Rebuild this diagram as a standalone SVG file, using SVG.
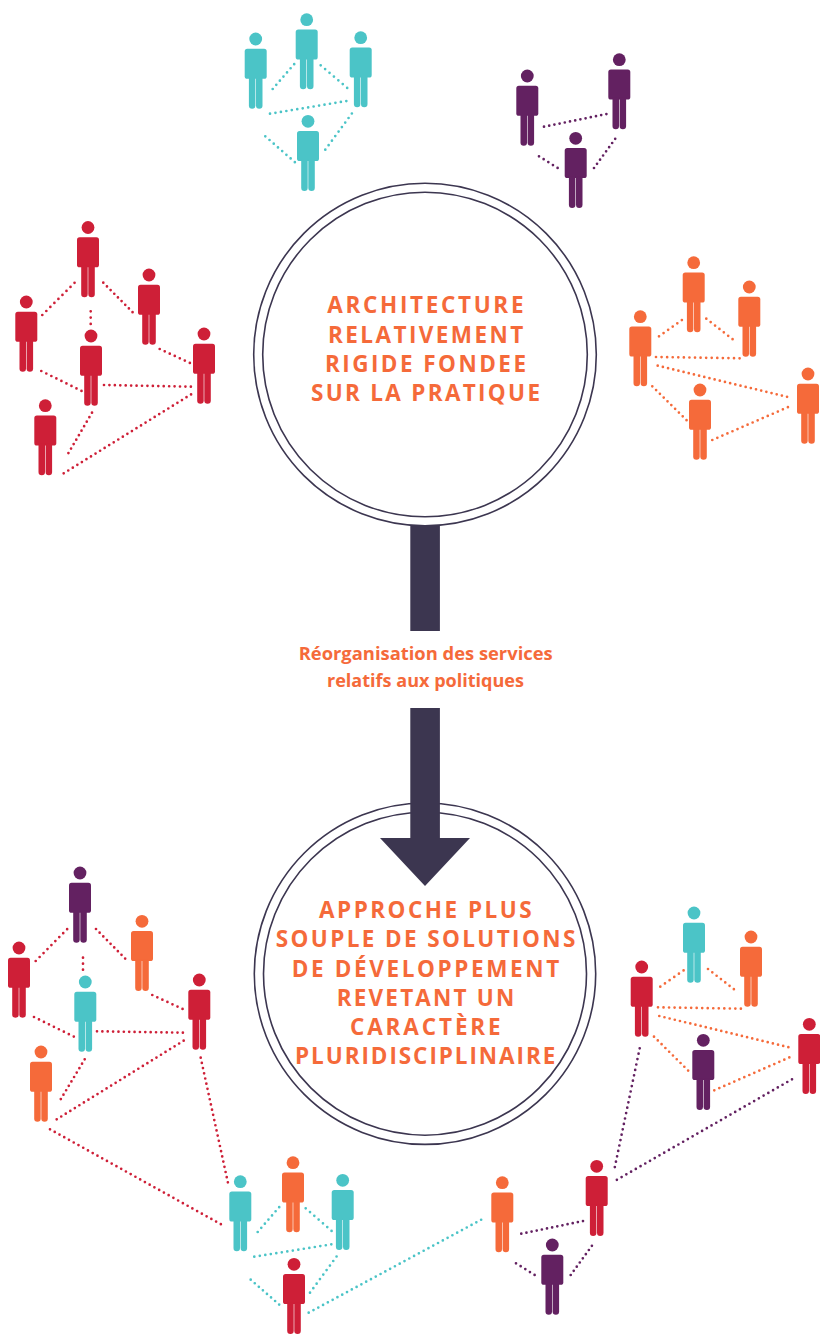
<svg xmlns="http://www.w3.org/2000/svg" width="820" height="1335" viewBox="0 0 820 1335">
<style>
.teal{fill:#4bc4c7}.red{fill:#ce1f37}.orange{fill:#f56a3a}.purple{fill:#632161}
.ring{fill:none;stroke:#3c3650;stroke-width:1.6}
.arrow{fill:#3c3650}
.dot{fill:none;stroke-width:2.7;stroke-linecap:round;stroke-dasharray:0 .995}
.dt{stroke:#4bc4c7}.dr{stroke:#ce1f37}.do{stroke:#f56a3a}.dp{stroke:#632161}
.title{font-family:"Open Sans","Liberation Sans",sans-serif;font-weight:700;font-size:22.5px;fill:#f56a3a}
.label{font-family:"Open Sans","Liberation Sans",sans-serif;font-weight:700;font-size:18.5px;fill:#f56a3a}
</style>
<defs>
<g id="p">
<circle cx="0" cy="0" r="6.4"/>
<rect x="-11" y="9.8" width="22" height="30" rx="2.6"/>
<path d="M-6.8 38h6.5v28.4a3.25 3.25 0 0 1-6.5 0z"/>
<path d="M0.3 38h6.5v28.4a3.25 3.25 0 0 1-6.5 0z"/>
</g>
</defs>
<g id="rings">
<circle class="ring" cx="425" cy="354.5" r="171.3"/>
<circle class="ring" cx="425" cy="354.5" r="162.3"/>
<circle class="ring" cx="425" cy="973.7" r="170.7"/>
<circle class="ring" cx="425" cy="973.7" r="161.5"/>
</g>
<g id="connectors">
<path class="dot dt" pathLength="6" d="M272.7 89L294.3 64"/>
<path class="dot dt" pathLength="6" d="M320.7 65.3L347.3 88"/>
<path class="dot dt" pathLength="14" d="M270 113.7L346.7 101"/>
<path class="dot dt" pathLength="7" d="M265.3 136.3L295 162.3"/>
<path class="dot dt" pathLength="8" d="M325.3 149.7L352 113.3"/>
<path class="dot dp" pathLength="12" d="M544 126.7L606.7 114"/>
<path class="dot dp" pathLength="4" d="M539 156.3L557.7 168"/>
<path class="dot dp" pathLength="7" d="M594 168L615.3 138.7"/>
<path class="dot dr" pathLength="8" d="M42.3 315L74.7 282.7"/>
<path class="dot dr" pathLength="8" d="M103.3 282.7L132.7 312.3"/>
<path class="dot dr" pathLength="2" d="M90.7 311.3L90.7 324"/>
<path class="dot dr" pathLength="8" d="M41.3 371L81.7 391"/>
<path class="dot dr" pathLength="16" d="M104 385L191.3 386.7"/>
<path class="dot dr" pathLength="6" d="M159.7 349L190 363"/>
<path class="dot dr" pathLength="9" d="M92 412.7L68.3 453.3"/>
<path class="dot dr" pathLength="28" d="M63.7 473.3L191.7 394"/>
<path class="dot do" pathLength="5" d="M659 336.3L682 320"/>
<path class="dot do" pathLength="6" d="M706.3 318.7L732.7 339.3"/>
<path class="dot do" pathLength="15" d="M656 357L740 358.3"/>
<path class="dot do" pathLength="25" d="M657.7 365.7L787.7 397"/>
<path class="dot do" pathLength="9" d="M652.3 386.3L686.7 420.3"/>
<path class="dot do" pathLength="15" d="M712.3 440L788.3 407"/>
<path class="dot dr" pathLength="8" d="M35.7 961L67.3 929"/>
<path class="dot dr" pathLength="8" d="M96 929L125.3 958.7"/>
<path class="dot dr" pathLength="2" d="M83 957.7L83 969.7"/>
<path class="dot dr" pathLength="8" d="M34 1017L74 1036.7"/>
<path class="dot dr" pathLength="16" d="M97 1031.3L183.3 1032.7"/>
<path class="dot dr" pathLength="6" d="M152.3 995L182.7 1009"/>
<path class="dot dr" pathLength="9" d="M84.7 1059.3L60.7 1099.3"/>
<path class="dot dr" pathLength="28" d="M56.7 1119.3L184.3 1040.3"/>
<path class="dot dr" pathLength="24" d="M200.7 1057.7L228 1183"/>
<path class="dot dr" pathLength="36" d="M50 1129.3L221.7 1224.7"/>
<path class="dot do" pathLength="5" d="M660.3 986.7L683.7 970.3"/>
<path class="dot do" pathLength="6" d="M708 969L734 989.3"/>
<path class="dot do" pathLength="15" d="M658 1007.3L741.3 1008.7"/>
<path class="dot do" pathLength="25" d="M659.3 1016L789 1047.3"/>
<path class="dot do" pathLength="9" d="M654 1036.7L688.3 1070.7"/>
<path class="dot do" pathLength="15" d="M714.3 1090.3L789.7 1057.3"/>
<path class="dot dp" pathLength="22" d="M639.7 1048.3L614.7 1167.7"/>
<path class="dot dp" pathLength="37" d="M792 1079.3L616 1180.3"/>
<path class="dot dp" pathLength="12" d="M521.3 1233.7L583.3 1221"/>
<path class="dot dp" pathLength="4" d="M516 1263.3L534.7 1275"/>
<path class="dot dp" pathLength="7" d="M570.7 1275L592 1245.7"/>
<path class="dot dt" pathLength="6" d="M257.7 1232L279.3 1207"/>
<path class="dot dt" pathLength="6" d="M305.7 1208.3L331.7 1231"/>
<path class="dot dt" pathLength="14" d="M254.3 1256.7L331.7 1244.3"/>
<path class="dot dt" pathLength="7" d="M250.7 1279.7L279.3 1304.7"/>
<path class="dot dt" pathLength="8" d="M310 1292.7L336.7 1256.3"/>
<path class="dot dt" pathLength="36" d="M308.7 1312.7L482 1219.3"/>
</g>
<g id="arrow-stem-top"><rect class="arrow" x="410.3" y="526" width="29.6" height="105"/></g>
<g id="arrow-down"><path class="arrow" d="M410.3 708H439.9V838H470L425 886L380 838H410.3z"/></g>
<g id="top-teal">
<g id="t1" class="teal" transform="translate(255.7 39)"><use href="#p"/></g>
<g id="t2" class="teal" transform="translate(306.7 19.7)"><use href="#p"/></g>
<g id="t3" class="teal" transform="translate(360.7 37.7)"><use href="#p"/></g>
<g id="t4" class="teal" transform="translate(308 121.3)"><use href="#p"/></g>
</g>
<g id="top-purple">
<g id="p1" class="purple" transform="translate(527.3 76)"><use href="#p"/></g>
<g id="p2" class="purple" transform="translate(619.3 59.7)"><use href="#p"/></g>
<g id="p3" class="purple" transform="translate(575.7 138.3)"><use href="#p"/></g>
</g>
<g id="top-red">
<g id="r1" class="red" transform="translate(88 227.5)"><use href="#p"/></g>
<g id="r2" class="red" transform="translate(149 275)"><use href="#p"/></g>
<g id="r3" class="red" transform="translate(26.3 302)"><use href="#p"/></g>
<g id="r4" class="red" transform="translate(91 336)"><use href="#p"/></g>
<g id="r5" class="red" transform="translate(204 334)"><use href="#p"/></g>
<g id="r6" class="red" transform="translate(45.3 405.7)"><use href="#p"/></g>
</g>
<g id="top-orange">
<g id="o1" class="orange" transform="translate(693.7 262.7)"><use href="#p"/></g>
<g id="o2" class="orange" transform="translate(749.3 287)"><use href="#p"/></g>
<g id="o3" class="orange" transform="translate(640.3 316.7)"><use href="#p"/></g>
<g id="o4" class="orange" transform="translate(700 390)"><use href="#p"/></g>
<g id="o5" class="orange" transform="translate(808 374)"><use href="#p"/></g>
</g>
<g id="bottom-left">
<g id="bl1" class="purple" transform="translate(80 873)"><use href="#p"/></g>
<g id="bl2" class="orange" transform="translate(142 921.3)"><use href="#p"/></g>
<g id="bl3" class="red" transform="translate(19 948)"><use href="#p"/></g>
<g id="bl4" class="teal" transform="translate(85.3 982)"><use href="#p"/></g>
<g id="bl5" class="red" transform="translate(199.3 980)"><use href="#p"/></g>
<g id="bl6" class="orange" transform="translate(41 1052)"><use href="#p"/></g>
</g>
<g id="bottom-right">
<g id="br1" class="teal" transform="translate(694 913)"><use href="#p"/></g>
<g id="br2" class="orange" transform="translate(751 937)"><use href="#p"/></g>
<g id="br3" class="red" transform="translate(641.7 967)"><use href="#p"/></g>
<g id="br4" class="purple" transform="translate(703.3 1040.3)"><use href="#p"/></g>
<g id="br5" class="red" transform="translate(809.3 1024.3)"><use href="#p"/></g>
</g>
<g id="bottom-mid-left">
<g id="bm1" class="teal" transform="translate(240.3 1181.7)"><use href="#p"/></g>
<g id="bm2" class="orange" transform="translate(293 1162.7)"><use href="#p"/></g>
<g id="bm3" class="teal" transform="translate(342.7 1180.3)"><use href="#p"/></g>
<g id="bm4" class="red" transform="translate(294 1264.3)"><use href="#p"/></g>
</g>
<g id="bottom-mid-right">
<g id="bn1" class="orange" transform="translate(502.3 1182.7)"><use href="#p"/></g>
<g id="bn2" class="red" transform="translate(596.7 1166.3)"><use href="#p"/></g>
<g id="bn3" class="purple" transform="translate(552.3 1245)"><use href="#p"/></g>
</g>
<g id="title-top">
<text class="title" x="327.3" y="313.3" textLength="196.2">ARCHITECTURE</text>
<text class="title" x="328" y="343" textLength="195.3">RELATIVEMENT</text>
<text class="title" x="325" y="372.3" textLength="201">RIGIDE FONDEE</text>
<text class="title" x="311" y="401.3" textLength="229">SUR LA PRATIQUE</text>
</g>
<g id="label-mid">
<text class="label" x="298.7" y="660" textLength="254" lengthAdjust="spacingAndGlyphs">Réorganisation des services</text>
<text class="label" x="327" y="687.3" textLength="197" lengthAdjust="spacingAndGlyphs">relatifs aux politiques</text>
</g>
<g id="title-bottom">
<text class="title" x="319" y="917.7" textLength="212.7">APPROCHE PLUS</text>
<text class="title" x="275.7" y="947.3" textLength="299.6">SOUPLE DE SOLUTIONS</text>
<text class="title" x="291.7" y="976.7" textLength="267.6">DE DÉVELOPPEMENT</text>
<text class="title" x="336.7" y="1006" textLength="177.6">REVETANT UN</text>
<text class="title" x="350" y="1035" textLength="150.7">CARACTÈRE</text>
<text class="title" x="295" y="1064" textLength="260.3">PLURIDISCIPLINAIRE</text>
</g>
</svg>
